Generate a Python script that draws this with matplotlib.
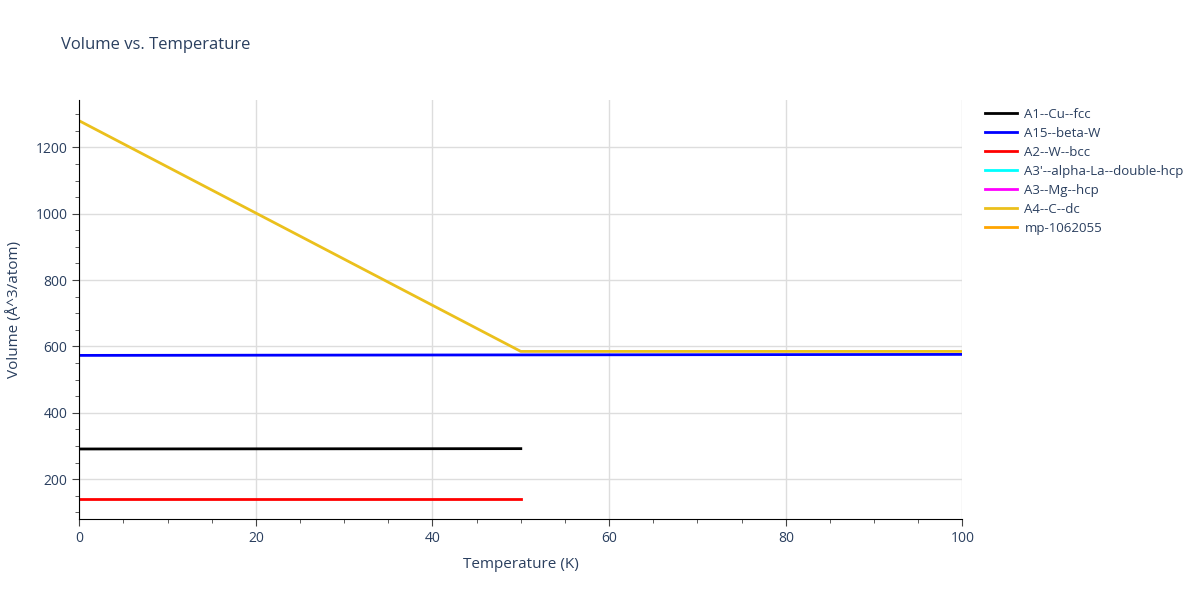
import matplotlib.pyplot as plt
from matplotlib.ticker import MultipleLocator

# data
t_half = [0, 50]
t_full = [0, 100]
a1_cu_fcc = [291, 292]
a15_beta_w = [573, 576]
a2_w_bcc = [140, 140]
a4_t = [0, 50, 100]
a4_c_dc = [1280, 585, 585]

series = [
    ("A1--Cu--fcc", t_half, a1_cu_fcc, "black"),
    ("A15--beta-W", t_full, a15_beta_w, "blue"),
    ("A2--W--bcc", t_half, a2_w_bcc, "red"),
    ("A3'--alpha-La--double-hcp", [], [], "cyan"),
    ("A3--Mg--hcp", [], [], "magenta"),
    ("A4--C--dc", a4_t, a4_c_dc, "#EBC01C"),
    ("mp-1062055", [], [], "orange"),
]

txt = "#2a3f5f"
plt.rcParams["font.family"] = ["Open Sans", "DejaVu Sans"]

fig = plt.figure(figsize=(12, 6), dpi=100)
ax = fig.add_axes([0.066, 0.135, 0.736, 0.698])

for name, x, y, c in series:
    ax.plot(x, y, color=c, lw=2, label=name)

ax.set_xlim(0, 100)
ax.set_ylim(80, 1342)
ax.xaxis.set_major_locator(MultipleLocator(20))
ax.xaxis.set_minor_locator(MultipleLocator(5))
ax.yaxis.set_major_locator(MultipleLocator(200))
ax.yaxis.set_minor_locator(MultipleLocator(50))
ax.grid(True, which="major", color="#dddddd", lw=1)
ax.set_axisbelow(True)
for s in ["top", "right"]:
    ax.spines[s].set_visible(False)
ax.spines["left"].set_color("black")
ax.spines["bottom"].set_color("black")
ax.tick_params(which="major", length=5, color="#444444", labelsize=10, labelcolor=txt)
ax.tick_params(which="minor", length=3, color="#444444")

ax.set_xlabel("Temperature (K)", fontsize=11, color=txt, labelpad=8)
ax.set_ylabel("Volume (Å^3/atom)", fontsize=11, color=txt, labelpad=10)
fig.text(0.051, 0.925, "Volume vs. Temperature", fontsize=12, color=txt, va="center")

leg = ax.legend(loc="upper left", bbox_to_anchor=(1.012, 1.01), frameon=False,
                fontsize=9.5, handlelength=2.4, handletextpad=0.6, labelspacing=0.45)
for t in leg.get_texts():
    t.set_color(txt)

fig.savefig("out.png", dpi=100)
